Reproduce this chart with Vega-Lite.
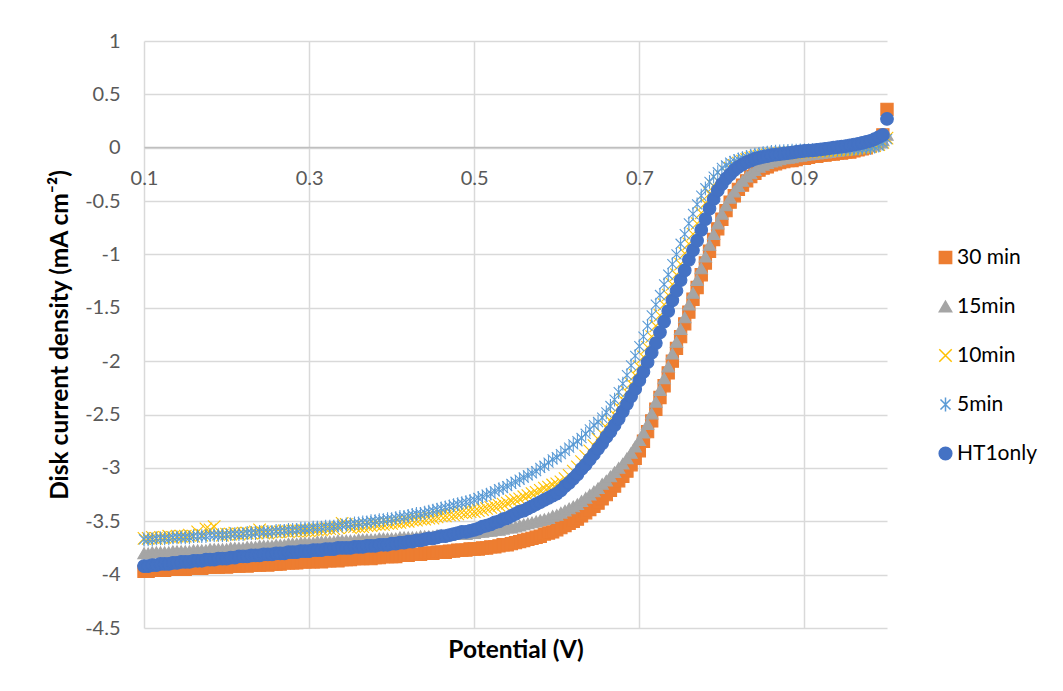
{
"$schema":"https://vega.github.io/schema/vega-lite/v6.json",
"width":743,"height":587,
"autosize":{"type":"none"},
"padding":{"left":144,"top":41,"right":176,"bottom":63},
"background":"#ffffff",
"config":{"view":{"stroke":null}},
"data":{"values":[
{"s":"30 min","x":0.1,"y":-3.97},{"s":"30 min","x":0.105,"y":-3.97},{"s":"30 min","x":0.11,"y":-3.96},{"s":"30 min","x":0.115,"y":-3.96},{"s":"30 min","x":0.12,"y":-3.96},{"s":"30 min","x":0.125,"y":-3.96},{"s":"30 min","x":0.13,"y":-3.95},{"s":"30 min","x":0.135,"y":-3.95},{"s":"30 min","x":0.14,"y":-3.95},{"s":"30 min","x":0.145,"y":-3.95},
{"s":"30 min","x":0.15,"y":-3.95},{"s":"30 min","x":0.155,"y":-3.94},{"s":"30 min","x":0.16,"y":-3.94},{"s":"30 min","x":0.165,"y":-3.94},{"s":"30 min","x":0.17,"y":-3.94},{"s":"30 min","x":0.175,"y":-3.93},{"s":"30 min","x":0.18,"y":-3.93},{"s":"30 min","x":0.185,"y":-3.93},{"s":"30 min","x":0.19,"y":-3.93},{"s":"30 min","x":0.195,"y":-3.92},
{"s":"30 min","x":0.2,"y":-3.93},{"s":"30 min","x":0.205,"y":-3.92},{"s":"30 min","x":0.21,"y":-3.92},{"s":"30 min","x":0.215,"y":-3.92},{"s":"30 min","x":0.22,"y":-3.91},{"s":"30 min","x":0.225,"y":-3.92},{"s":"30 min","x":0.23,"y":-3.91},{"s":"30 min","x":0.235,"y":-3.91},{"s":"30 min","x":0.24,"y":-3.91},{"s":"30 min","x":0.245,"y":-3.9},
{"s":"30 min","x":0.25,"y":-3.91},{"s":"30 min","x":0.255,"y":-3.9},{"s":"30 min","x":0.26,"y":-3.9},{"s":"30 min","x":0.265,"y":-3.9},{"s":"30 min","x":0.27,"y":-3.89},{"s":"30 min","x":0.275,"y":-3.89},{"s":"30 min","x":0.28,"y":-3.89},{"s":"30 min","x":0.285,"y":-3.89},{"s":"30 min","x":0.29,"y":-3.88},{"s":"30 min","x":0.295,"y":-3.88},
{"s":"30 min","x":0.3,"y":-3.88},{"s":"30 min","x":0.305,"y":-3.88},{"s":"30 min","x":0.31,"y":-3.87},{"s":"30 min","x":0.315,"y":-3.88},{"s":"30 min","x":0.32,"y":-3.87},{"s":"30 min","x":0.325,"y":-3.87},{"s":"30 min","x":0.33,"y":-3.86},{"s":"30 min","x":0.335,"y":-3.87},{"s":"30 min","x":0.34,"y":-3.86},{"s":"30 min","x":0.345,"y":-3.86},
{"s":"30 min","x":0.35,"y":-3.86},{"s":"30 min","x":0.355,"y":-3.85},{"s":"30 min","x":0.36,"y":-3.85},{"s":"30 min","x":0.365,"y":-3.85},{"s":"30 min","x":0.37,"y":-3.84},{"s":"30 min","x":0.375,"y":-3.85},{"s":"30 min","x":0.38,"y":-3.84},{"s":"30 min","x":0.385,"y":-3.84},{"s":"30 min","x":0.39,"y":-3.83},{"s":"30 min","x":0.395,"y":-3.83},
{"s":"30 min","x":0.4,"y":-3.83},{"s":"30 min","x":0.405,"y":-3.83},{"s":"30 min","x":0.41,"y":-3.82},{"s":"30 min","x":0.415,"y":-3.82},{"s":"30 min","x":0.42,"y":-3.82},{"s":"30 min","x":0.425,"y":-3.81},{"s":"30 min","x":0.43,"y":-3.81},{"s":"30 min","x":0.435,"y":-3.81},{"s":"30 min","x":0.44,"y":-3.8},{"s":"30 min","x":0.445,"y":-3.8},
{"s":"30 min","x":0.45,"y":-3.8},{"s":"30 min","x":0.455,"y":-3.79},{"s":"30 min","x":0.46,"y":-3.79},{"s":"30 min","x":0.465,"y":-3.79},{"s":"30 min","x":0.47,"y":-3.78},{"s":"30 min","x":0.475,"y":-3.78},{"s":"30 min","x":0.48,"y":-3.77},{"s":"30 min","x":0.485,"y":-3.77},{"s":"30 min","x":0.49,"y":-3.77},{"s":"30 min","x":0.495,"y":-3.76},
{"s":"30 min","x":0.5,"y":-3.76},{"s":"30 min","x":0.505,"y":-3.76},{"s":"30 min","x":0.51,"y":-3.75},{"s":"30 min","x":0.515,"y":-3.75},{"s":"30 min","x":0.52,"y":-3.74},{"s":"30 min","x":0.525,"y":-3.74},{"s":"30 min","x":0.53,"y":-3.73},{"s":"30 min","x":0.535,"y":-3.72},{"s":"30 min","x":0.54,"y":-3.72},{"s":"30 min","x":0.545,"y":-3.71},
{"s":"30 min","x":0.55,"y":-3.7},{"s":"30 min","x":0.555,"y":-3.69},{"s":"30 min","x":0.56,"y":-3.68},{"s":"30 min","x":0.565,"y":-3.67},{"s":"30 min","x":0.57,"y":-3.66},{"s":"30 min","x":0.575,"y":-3.65},{"s":"30 min","x":0.58,"y":-3.64},{"s":"30 min","x":0.585,"y":-3.62},{"s":"30 min","x":0.59,"y":-3.61},{"s":"30 min","x":0.595,"y":-3.6},
{"s":"30 min","x":0.6,"y":-3.58},{"s":"30 min","x":0.605,"y":-3.56},{"s":"30 min","x":0.61,"y":-3.54},{"s":"30 min","x":0.615,"y":-3.52},{"s":"30 min","x":0.62,"y":-3.5},{"s":"30 min","x":0.625,"y":-3.48},{"s":"30 min","x":0.63,"y":-3.45},{"s":"30 min","x":0.635,"y":-3.42},{"s":"30 min","x":0.64,"y":-3.39},{"s":"30 min","x":0.645,"y":-3.36},
{"s":"30 min","x":0.65,"y":-3.33},{"s":"30 min","x":0.655,"y":-3.29},{"s":"30 min","x":0.66,"y":-3.25},{"s":"30 min","x":0.665,"y":-3.21},{"s":"30 min","x":0.67,"y":-3.17},{"s":"30 min","x":0.675,"y":-3.12},{"s":"30 min","x":0.68,"y":-3.08},{"s":"30 min","x":0.685,"y":-3.03},{"s":"30 min","x":0.69,"y":-2.97},{"s":"30 min","x":0.695,"y":-2.91},
{"s":"30 min","x":0.7,"y":-2.84},{"s":"30 min","x":0.705,"y":-2.75},{"s":"30 min","x":0.71,"y":-2.66},{"s":"30 min","x":0.715,"y":-2.56},{"s":"30 min","x":0.72,"y":-2.45},{"s":"30 min","x":0.725,"y":-2.34},{"s":"30 min","x":0.73,"y":-2.23},{"s":"30 min","x":0.735,"y":-2.11},{"s":"30 min","x":0.74,"y":-2.0},{"s":"30 min","x":0.745,"y":-1.88},
{"s":"30 min","x":0.75,"y":-1.77},{"s":"30 min","x":0.755,"y":-1.65},{"s":"30 min","x":0.76,"y":-1.54},{"s":"30 min","x":0.765,"y":-1.42},{"s":"30 min","x":0.77,"y":-1.31},{"s":"30 min","x":0.775,"y":-1.19},{"s":"30 min","x":0.78,"y":-1.08},{"s":"30 min","x":0.785,"y":-0.97},{"s":"30 min","x":0.79,"y":-0.86},{"s":"30 min","x":0.795,"y":-0.76},
{"s":"30 min","x":0.8,"y":-0.67},{"s":"30 min","x":0.805,"y":-0.59},{"s":"30 min","x":0.81,"y":-0.51},{"s":"30 min","x":0.815,"y":-0.45},{"s":"30 min","x":0.82,"y":-0.39},{"s":"30 min","x":0.825,"y":-0.35},{"s":"30 min","x":0.83,"y":-0.31},{"s":"30 min","x":0.835,"y":-0.27},{"s":"30 min","x":0.84,"y":-0.24},{"s":"30 min","x":0.845,"y":-0.21},
{"s":"30 min","x":0.85,"y":-0.19},{"s":"30 min","x":0.855,"y":-0.18},{"s":"30 min","x":0.86,"y":-0.16},{"s":"30 min","x":0.865,"y":-0.15},{"s":"30 min","x":0.87,"y":-0.14},{"s":"30 min","x":0.875,"y":-0.13},{"s":"30 min","x":0.88,"y":-0.12},{"s":"30 min","x":0.885,"y":-0.12},{"s":"30 min","x":0.89,"y":-0.11},{"s":"30 min","x":0.895,"y":-0.1},
{"s":"30 min","x":0.9,"y":-0.1},{"s":"30 min","x":0.905,"y":-0.09},{"s":"30 min","x":0.91,"y":-0.08},{"s":"30 min","x":0.915,"y":-0.08},{"s":"30 min","x":0.92,"y":-0.07},{"s":"30 min","x":0.925,"y":-0.07},{"s":"30 min","x":0.93,"y":-0.06},{"s":"30 min","x":0.935,"y":-0.06},{"s":"30 min","x":0.94,"y":-0.05},{"s":"30 min","x":0.945,"y":-0.05},
{"s":"30 min","x":0.95,"y":-0.04},{"s":"30 min","x":0.955,"y":-0.04},{"s":"30 min","x":0.96,"y":-0.03},{"s":"30 min","x":0.965,"y":-0.02},{"s":"30 min","x":0.97,"y":-0.01},{"s":"30 min","x":0.975,"y":0.0},{"s":"30 min","x":0.98,"y":0.02},{"s":"30 min","x":0.985,"y":0.04},{"s":"30 min","x":0.99,"y":0.06},{"s":"30 min","x":0.995,"y":0.12},
{"s":"30 min","x":1.0,"y":0.36},
{"s":"15min","x":0.1,"y":-3.8},{"s":"15min","x":0.105,"y":-3.8},{"s":"15min","x":0.11,"y":-3.79},{"s":"15min","x":0.115,"y":-3.79},{"s":"15min","x":0.12,"y":-3.79},{"s":"15min","x":0.125,"y":-3.79},{"s":"15min","x":0.13,"y":-3.79},{"s":"15min","x":0.135,"y":-3.78},{"s":"15min","x":0.14,"y":-3.78},{"s":"15min","x":0.145,"y":-3.78},
{"s":"15min","x":0.15,"y":-3.78},{"s":"15min","x":0.155,"y":-3.78},{"s":"15min","x":0.16,"y":-3.77},{"s":"15min","x":0.165,"y":-3.77},{"s":"15min","x":0.17,"y":-3.77},{"s":"15min","x":0.175,"y":-3.77},{"s":"15min","x":0.18,"y":-3.76},{"s":"15min","x":0.185,"y":-3.76},{"s":"15min","x":0.19,"y":-3.76},{"s":"15min","x":0.195,"y":-3.76},
{"s":"15min","x":0.2,"y":-3.76},{"s":"15min","x":0.205,"y":-3.75},{"s":"15min","x":0.21,"y":-3.75},{"s":"15min","x":0.215,"y":-3.75},{"s":"15min","x":0.22,"y":-3.75},{"s":"15min","x":0.225,"y":-3.74},{"s":"15min","x":0.23,"y":-3.74},{"s":"15min","x":0.235,"y":-3.74},{"s":"15min","x":0.24,"y":-3.73},{"s":"15min","x":0.245,"y":-3.73},
{"s":"15min","x":0.25,"y":-3.73},{"s":"15min","x":0.255,"y":-3.73},{"s":"15min","x":0.26,"y":-3.72},{"s":"15min","x":0.265,"y":-3.72},{"s":"15min","x":0.27,"y":-3.72},{"s":"15min","x":0.275,"y":-3.71},{"s":"15min","x":0.28,"y":-3.71},{"s":"15min","x":0.285,"y":-3.71},{"s":"15min","x":0.29,"y":-3.7},{"s":"15min","x":0.295,"y":-3.7},
{"s":"15min","x":0.3,"y":-3.7},{"s":"15min","x":0.305,"y":-3.7},{"s":"15min","x":0.31,"y":-3.69},{"s":"15min","x":0.315,"y":-3.69},{"s":"15min","x":0.32,"y":-3.69},{"s":"15min","x":0.325,"y":-3.69},{"s":"15min","x":0.33,"y":-3.69},{"s":"15min","x":0.335,"y":-3.68},{"s":"15min","x":0.34,"y":-3.68},{"s":"15min","x":0.345,"y":-3.68},
{"s":"15min","x":0.35,"y":-3.68},{"s":"15min","x":0.355,"y":-3.68},{"s":"15min","x":0.36,"y":-3.67},{"s":"15min","x":0.365,"y":-3.67},{"s":"15min","x":0.37,"y":-3.67},{"s":"15min","x":0.375,"y":-3.67},{"s":"15min","x":0.38,"y":-3.67},{"s":"15min","x":0.385,"y":-3.66},{"s":"15min","x":0.39,"y":-3.66},{"s":"15min","x":0.395,"y":-3.66},
{"s":"15min","x":0.4,"y":-3.66},{"s":"15min","x":0.405,"y":-3.66},{"s":"15min","x":0.41,"y":-3.65},{"s":"15min","x":0.415,"y":-3.65},{"s":"15min","x":0.42,"y":-3.65},{"s":"15min","x":0.425,"y":-3.65},{"s":"15min","x":0.43,"y":-3.65},{"s":"15min","x":0.435,"y":-3.64},{"s":"15min","x":0.44,"y":-3.64},{"s":"15min","x":0.445,"y":-3.64},
{"s":"15min","x":0.45,"y":-3.64},{"s":"15min","x":0.455,"y":-3.63},{"s":"15min","x":0.46,"y":-3.63},{"s":"15min","x":0.465,"y":-3.63},{"s":"15min","x":0.47,"y":-3.63},{"s":"15min","x":0.475,"y":-3.62},{"s":"15min","x":0.48,"y":-3.62},{"s":"15min","x":0.485,"y":-3.62},{"s":"15min","x":0.49,"y":-3.62},{"s":"15min","x":0.495,"y":-3.61},
{"s":"15min","x":0.5,"y":-3.61},{"s":"15min","x":0.505,"y":-3.6},{"s":"15min","x":0.51,"y":-3.6},{"s":"15min","x":0.515,"y":-3.59},{"s":"15min","x":0.52,"y":-3.59},{"s":"15min","x":0.525,"y":-3.58},{"s":"15min","x":0.53,"y":-3.58},{"s":"15min","x":0.535,"y":-3.57},{"s":"15min","x":0.54,"y":-3.56},{"s":"15min","x":0.545,"y":-3.56},
{"s":"15min","x":0.55,"y":-3.55},{"s":"15min","x":0.555,"y":-3.54},{"s":"15min","x":0.56,"y":-3.53},{"s":"15min","x":0.565,"y":-3.52},{"s":"15min","x":0.57,"y":-3.51},{"s":"15min","x":0.575,"y":-3.5},{"s":"15min","x":0.58,"y":-3.49},{"s":"15min","x":0.585,"y":-3.48},{"s":"15min","x":0.59,"y":-3.47},{"s":"15min","x":0.595,"y":-3.45},
{"s":"15min","x":0.6,"y":-3.44},{"s":"15min","x":0.605,"y":-3.42},{"s":"15min","x":0.61,"y":-3.4},{"s":"15min","x":0.615,"y":-3.38},{"s":"15min","x":0.62,"y":-3.36},{"s":"15min","x":0.625,"y":-3.34},{"s":"15min","x":0.63,"y":-3.31},{"s":"15min","x":0.635,"y":-3.28},{"s":"15min","x":0.64,"y":-3.25},{"s":"15min","x":0.645,"y":-3.22},
{"s":"15min","x":0.65,"y":-3.19},{"s":"15min","x":0.655,"y":-3.15},{"s":"15min","x":0.66,"y":-3.12},{"s":"15min","x":0.665,"y":-3.08},{"s":"15min","x":0.67,"y":-3.04},{"s":"15min","x":0.675,"y":-3.0},{"s":"15min","x":0.68,"y":-2.96},{"s":"15min","x":0.685,"y":-2.91},{"s":"15min","x":0.69,"y":-2.86},{"s":"15min","x":0.695,"y":-2.8},
{"s":"15min","x":0.7,"y":-2.74},{"s":"15min","x":0.705,"y":-2.67},{"s":"15min","x":0.71,"y":-2.59},{"s":"15min","x":0.715,"y":-2.49},{"s":"15min","x":0.72,"y":-2.38},{"s":"15min","x":0.725,"y":-2.27},{"s":"15min","x":0.73,"y":-2.16},{"s":"15min","x":0.735,"y":-2.05},{"s":"15min","x":0.74,"y":-1.93},{"s":"15min","x":0.745,"y":-1.82},
{"s":"15min","x":0.75,"y":-1.7},{"s":"15min","x":0.755,"y":-1.59},{"s":"15min","x":0.76,"y":-1.47},{"s":"15min","x":0.765,"y":-1.36},{"s":"15min","x":0.77,"y":-1.24},{"s":"15min","x":0.775,"y":-1.13},{"s":"15min","x":0.78,"y":-1.02},{"s":"15min","x":0.785,"y":-0.91},{"s":"15min","x":0.79,"y":-0.81},{"s":"15min","x":0.795,"y":-0.71},
{"s":"15min","x":0.8,"y":-0.62},{"s":"15min","x":0.805,"y":-0.54},{"s":"15min","x":0.81,"y":-0.47},{"s":"15min","x":0.815,"y":-0.41},{"s":"15min","x":0.82,"y":-0.36},{"s":"15min","x":0.825,"y":-0.31},{"s":"15min","x":0.83,"y":-0.27},{"s":"15min","x":0.835,"y":-0.24},{"s":"15min","x":0.84,"y":-0.21},{"s":"15min","x":0.845,"y":-0.18},
{"s":"15min","x":0.85,"y":-0.16},{"s":"15min","x":0.855,"y":-0.145},{"s":"15min","x":0.86,"y":-0.13},{"s":"15min","x":0.865,"y":-0.12},{"s":"15min","x":0.87,"y":-0.11},{"s":"15min","x":0.875,"y":-0.1},{"s":"15min","x":0.88,"y":-0.095},{"s":"15min","x":0.885,"y":-0.09},{"s":"15min","x":0.89,"y":-0.08},{"s":"15min","x":0.895,"y":-0.075},
{"s":"15min","x":0.9,"y":-0.07},{"s":"15min","x":0.905,"y":-0.065},{"s":"15min","x":0.91,"y":-0.06},{"s":"15min","x":0.915,"y":-0.055},{"s":"15min","x":0.92,"y":-0.05},{"s":"15min","x":0.925,"y":-0.045},{"s":"15min","x":0.93,"y":-0.04},{"s":"15min","x":0.935,"y":-0.035},{"s":"15min","x":0.94,"y":-0.03},{"s":"15min","x":0.945,"y":-0.025},
{"s":"15min","x":0.95,"y":-0.02},{"s":"15min","x":0.955,"y":-0.015},{"s":"15min","x":0.96,"y":-0.01},{"s":"15min","x":0.965,"y":0.0},{"s":"15min","x":0.97,"y":0.005},{"s":"15min","x":0.975,"y":0.01},{"s":"15min","x":0.98,"y":0.02},{"s":"15min","x":0.985,"y":0.03},{"s":"15min","x":0.99,"y":0.05},{"s":"15min","x":0.995,"y":0.07},
{"s":"15min","x":1.0,"y":0.12},
{"s":"10min","x":0.1,"y":-3.66},{"s":"10min","x":0.105,"y":-3.66},{"s":"10min","x":0.11,"y":-3.65},{"s":"10min","x":0.115,"y":-3.66},{"s":"10min","x":0.12,"y":-3.65},{"s":"10min","x":0.125,"y":-3.65},{"s":"10min","x":0.13,"y":-3.64},{"s":"10min","x":0.135,"y":-3.65},{"s":"10min","x":0.14,"y":-3.64},{"s":"10min","x":0.145,"y":-3.64},
{"s":"10min","x":0.15,"y":-3.64},{"s":"10min","x":0.155,"y":-3.63},{"s":"10min","x":0.16,"y":-3.64},{"s":"10min","x":0.165,"y":-3.6},{"s":"10min","x":0.17,"y":-3.63},{"s":"10min","x":0.175,"y":-3.57},{"s":"10min","x":0.18,"y":-3.58},{"s":"10min","x":0.185,"y":-3.55},{"s":"10min","x":0.19,"y":-3.62},{"s":"10min","x":0.195,"y":-3.63},
{"s":"10min","x":0.2,"y":-3.62},{"s":"10min","x":0.205,"y":-3.62},{"s":"10min","x":0.21,"y":-3.61},{"s":"10min","x":0.215,"y":-3.62},{"s":"10min","x":0.22,"y":-3.61},{"s":"10min","x":0.225,"y":-3.61},{"s":"10min","x":0.23,"y":-3.61},{"s":"10min","x":0.235,"y":-3.6},{"s":"10min","x":0.24,"y":-3.58},{"s":"10min","x":0.245,"y":-3.61},
{"s":"10min","x":0.25,"y":-3.61},{"s":"10min","x":0.255,"y":-3.6},{"s":"10min","x":0.26,"y":-3.6},{"s":"10min","x":0.265,"y":-3.6},{"s":"10min","x":0.27,"y":-3.59},{"s":"10min","x":0.275,"y":-3.6},{"s":"10min","x":0.28,"y":-3.59},{"s":"10min","x":0.285,"y":-3.59},{"s":"10min","x":0.29,"y":-3.59},{"s":"10min","x":0.295,"y":-3.59},
{"s":"10min","x":0.3,"y":-3.59},{"s":"10min","x":0.305,"y":-3.58},{"s":"10min","x":0.31,"y":-3.58},{"s":"10min","x":0.315,"y":-3.58},{"s":"10min","x":0.32,"y":-3.57},{"s":"10min","x":0.325,"y":-3.57},{"s":"10min","x":0.33,"y":-3.57},{"s":"10min","x":0.335,"y":-3.56},{"s":"10min","x":0.34,"y":-3.52},{"s":"10min","x":0.345,"y":-3.53},
{"s":"10min","x":0.35,"y":-3.56},{"s":"10min","x":0.355,"y":-3.55},{"s":"10min","x":0.36,"y":-3.55},{"s":"10min","x":0.365,"y":-3.55},{"s":"10min","x":0.37,"y":-3.54},{"s":"10min","x":0.375,"y":-3.54},{"s":"10min","x":0.38,"y":-3.53},{"s":"10min","x":0.385,"y":-3.53},{"s":"10min","x":0.39,"y":-3.53},{"s":"10min","x":0.395,"y":-3.52},
{"s":"10min","x":0.4,"y":-3.52},{"s":"10min","x":0.405,"y":-3.51},{"s":"10min","x":0.41,"y":-3.51},{"s":"10min","x":0.415,"y":-3.5},{"s":"10min","x":0.42,"y":-3.5},{"s":"10min","x":0.425,"y":-3.49},{"s":"10min","x":0.43,"y":-3.49},{"s":"10min","x":0.435,"y":-3.48},{"s":"10min","x":0.44,"y":-3.48},{"s":"10min","x":0.445,"y":-3.47},
{"s":"10min","x":0.45,"y":-3.47},{"s":"10min","x":0.455,"y":-3.46},{"s":"10min","x":0.46,"y":-3.45},{"s":"10min","x":0.465,"y":-3.45},{"s":"10min","x":0.47,"y":-3.44},{"s":"10min","x":0.475,"y":-3.44},{"s":"10min","x":0.48,"y":-3.43},{"s":"10min","x":0.485,"y":-3.42},{"s":"10min","x":0.49,"y":-3.42},{"s":"10min","x":0.495,"y":-3.41},
{"s":"10min","x":0.5,"y":-3.41},{"s":"10min","x":0.505,"y":-3.4},{"s":"10min","x":0.51,"y":-3.39},{"s":"10min","x":0.515,"y":-3.38},{"s":"10min","x":0.52,"y":-3.37},{"s":"10min","x":0.525,"y":-3.36},{"s":"10min","x":0.53,"y":-3.35},{"s":"10min","x":0.535,"y":-3.34},{"s":"10min","x":0.54,"y":-3.33},{"s":"10min","x":0.545,"y":-3.31},
{"s":"10min","x":0.55,"y":-3.3},{"s":"10min","x":0.555,"y":-3.29},{"s":"10min","x":0.56,"y":-3.27},{"s":"10min","x":0.565,"y":-3.26},{"s":"10min","x":0.57,"y":-3.24},{"s":"10min","x":0.575,"y":-3.23},{"s":"10min","x":0.58,"y":-3.21},{"s":"10min","x":0.585,"y":-3.19},{"s":"10min","x":0.59,"y":-3.18},{"s":"10min","x":0.595,"y":-3.16},
{"s":"10min","x":0.6,"y":-3.15},{"s":"10min","x":0.605,"y":-3.13},{"s":"10min","x":0.61,"y":-3.1},{"s":"10min","x":0.615,"y":-3.07},{"s":"10min","x":0.62,"y":-3.03},{"s":"10min","x":0.625,"y":-2.99},{"s":"10min","x":0.63,"y":-2.94},{"s":"10min","x":0.635,"y":-2.89},{"s":"10min","x":0.64,"y":-2.84},{"s":"10min","x":0.645,"y":-2.79},
{"s":"10min","x":0.65,"y":-2.73},{"s":"10min","x":0.655,"y":-2.68},{"s":"10min","x":0.66,"y":-2.62},{"s":"10min","x":0.665,"y":-2.56},{"s":"10min","x":0.67,"y":-2.5},{"s":"10min","x":0.675,"y":-2.43},{"s":"10min","x":0.68,"y":-2.36},{"s":"10min","x":0.685,"y":-2.29},{"s":"10min","x":0.69,"y":-2.21},{"s":"10min","x":0.695,"y":-2.13},
{"s":"10min","x":0.7,"y":-2.05},{"s":"10min","x":0.705,"y":-1.96},{"s":"10min","x":0.71,"y":-1.87},{"s":"10min","x":0.715,"y":-1.77},{"s":"10min","x":0.72,"y":-1.67},{"s":"10min","x":0.725,"y":-1.57},{"s":"10min","x":0.73,"y":-1.47},{"s":"10min","x":0.735,"y":-1.38},{"s":"10min","x":0.74,"y":-1.28},{"s":"10min","x":0.745,"y":-1.19},
{"s":"10min","x":0.75,"y":-1.09},{"s":"10min","x":0.755,"y":-0.99},{"s":"10min","x":0.76,"y":-0.9},{"s":"10min","x":0.765,"y":-0.81},{"s":"10min","x":0.77,"y":-0.71},{"s":"10min","x":0.775,"y":-0.61},{"s":"10min","x":0.78,"y":-0.52},{"s":"10min","x":0.785,"y":-0.43},{"s":"10min","x":0.79,"y":-0.36},{"s":"10min","x":0.795,"y":-0.31},
{"s":"10min","x":0.8,"y":-0.27},{"s":"10min","x":0.805,"y":-0.225},{"s":"10min","x":0.81,"y":-0.19},{"s":"10min","x":0.815,"y":-0.165},{"s":"10min","x":0.82,"y":-0.145},{"s":"10min","x":0.825,"y":-0.125},{"s":"10min","x":0.83,"y":-0.11},{"s":"10min","x":0.835,"y":-0.1},{"s":"10min","x":0.84,"y":-0.09},{"s":"10min","x":0.845,"y":-0.082},
{"s":"10min","x":0.85,"y":-0.075},{"s":"10min","x":0.855,"y":-0.07},{"s":"10min","x":0.86,"y":-0.065},{"s":"10min","x":0.865,"y":-0.06},{"s":"10min","x":0.87,"y":-0.056},{"s":"10min","x":0.875,"y":-0.053},{"s":"10min","x":0.88,"y":-0.05},{"s":"10min","x":0.885,"y":-0.047},{"s":"10min","x":0.89,"y":-0.044},{"s":"10min","x":0.895,"y":-0.042},
{"s":"10min","x":0.9,"y":-0.04},{"s":"10min","x":0.905,"y":-0.037},{"s":"10min","x":0.91,"y":-0.035},{"s":"10min","x":0.915,"y":-0.032},{"s":"10min","x":0.92,"y":-0.03},{"s":"10min","x":0.925,"y":-0.027},{"s":"10min","x":0.93,"y":-0.025},{"s":"10min","x":0.935,"y":-0.022},{"s":"10min","x":0.94,"y":-0.02},{"s":"10min","x":0.945,"y":-0.017},
{"s":"10min","x":0.95,"y":-0.015},{"s":"10min","x":0.955,"y":-0.012},{"s":"10min","x":0.96,"y":-0.01},{"s":"10min","x":0.965,"y":-0.005},{"s":"10min","x":0.97,"y":0.0},{"s":"10min","x":0.975,"y":0.005},{"s":"10min","x":0.98,"y":0.01},{"s":"10min","x":0.985,"y":0.02},{"s":"10min","x":0.99,"y":0.03},{"s":"10min","x":0.995,"y":0.05},
{"s":"10min","x":1.0,"y":0.09},
{"s":"5min","x":0.1,"y":-3.67},{"s":"5min","x":0.105,"y":-3.67},{"s":"5min","x":0.11,"y":-3.67},{"s":"5min","x":0.115,"y":-3.66},{"s":"5min","x":0.12,"y":-3.66},{"s":"5min","x":0.125,"y":-3.66},{"s":"5min","x":0.13,"y":-3.66},{"s":"5min","x":0.135,"y":-3.65},{"s":"5min","x":0.14,"y":-3.65},{"s":"5min","x":0.145,"y":-3.65},
{"s":"5min","x":0.15,"y":-3.65},{"s":"5min","x":0.155,"y":-3.65},{"s":"5min","x":0.16,"y":-3.64},{"s":"5min","x":0.165,"y":-3.64},{"s":"5min","x":0.17,"y":-3.64},{"s":"5min","x":0.175,"y":-3.64},{"s":"5min","x":0.18,"y":-3.63},{"s":"5min","x":0.185,"y":-3.63},{"s":"5min","x":0.19,"y":-3.63},{"s":"5min","x":0.195,"y":-3.63},
{"s":"5min","x":0.2,"y":-3.63},{"s":"5min","x":0.205,"y":-3.62},{"s":"5min","x":0.21,"y":-3.62},{"s":"5min","x":0.215,"y":-3.62},{"s":"5min","x":0.22,"y":-3.62},{"s":"5min","x":0.225,"y":-3.61},{"s":"5min","x":0.23,"y":-3.61},{"s":"5min","x":0.235,"y":-3.61},{"s":"5min","x":0.24,"y":-3.6},{"s":"5min","x":0.245,"y":-3.6},
{"s":"5min","x":0.25,"y":-3.6},{"s":"5min","x":0.255,"y":-3.6},{"s":"5min","x":0.26,"y":-3.59},{"s":"5min","x":0.265,"y":-3.59},{"s":"5min","x":0.27,"y":-3.59},{"s":"5min","x":0.275,"y":-3.58},{"s":"5min","x":0.28,"y":-3.58},{"s":"5min","x":0.285,"y":-3.58},{"s":"5min","x":0.29,"y":-3.57},{"s":"5min","x":0.295,"y":-3.57},
{"s":"5min","x":0.3,"y":-3.57},{"s":"5min","x":0.305,"y":-3.56},{"s":"5min","x":0.31,"y":-3.56},{"s":"5min","x":0.315,"y":-3.56},{"s":"5min","x":0.32,"y":-3.55},{"s":"5min","x":0.325,"y":-3.55},{"s":"5min","x":0.33,"y":-3.55},{"s":"5min","x":0.335,"y":-3.54},{"s":"5min","x":0.34,"y":-3.54},{"s":"5min","x":0.345,"y":-3.53},
{"s":"5min","x":0.35,"y":-3.53},{"s":"5min","x":0.355,"y":-3.52},{"s":"5min","x":0.36,"y":-3.52},{"s":"5min","x":0.365,"y":-3.51},{"s":"5min","x":0.37,"y":-3.51},{"s":"5min","x":0.375,"y":-3.5},{"s":"5min","x":0.38,"y":-3.5},{"s":"5min","x":0.385,"y":-3.49},{"s":"5min","x":0.39,"y":-3.49},{"s":"5min","x":0.395,"y":-3.48},
{"s":"5min","x":0.4,"y":-3.48},{"s":"5min","x":0.405,"y":-3.47},{"s":"5min","x":0.41,"y":-3.46},{"s":"5min","x":0.415,"y":-3.46},{"s":"5min","x":0.42,"y":-3.45},{"s":"5min","x":0.425,"y":-3.44},{"s":"5min","x":0.43,"y":-3.43},{"s":"5min","x":0.435,"y":-3.43},{"s":"5min","x":0.44,"y":-3.42},{"s":"5min","x":0.445,"y":-3.41},
{"s":"5min","x":0.45,"y":-3.4},{"s":"5min","x":0.455,"y":-3.39},{"s":"5min","x":0.46,"y":-3.38},{"s":"5min","x":0.465,"y":-3.37},{"s":"5min","x":0.47,"y":-3.36},{"s":"5min","x":0.475,"y":-3.35},{"s":"5min","x":0.48,"y":-3.34},{"s":"5min","x":0.485,"y":-3.33},{"s":"5min","x":0.49,"y":-3.32},{"s":"5min","x":0.495,"y":-3.31},
{"s":"5min","x":0.5,"y":-3.3},{"s":"5min","x":0.505,"y":-3.28},{"s":"5min","x":0.51,"y":-3.27},{"s":"5min","x":0.515,"y":-3.25},{"s":"5min","x":0.52,"y":-3.24},{"s":"5min","x":0.525,"y":-3.22},{"s":"5min","x":0.53,"y":-3.2},{"s":"5min","x":0.535,"y":-3.19},{"s":"5min","x":0.54,"y":-3.17},{"s":"5min","x":0.545,"y":-3.15},
{"s":"5min","x":0.55,"y":-3.13},{"s":"5min","x":0.555,"y":-3.11},{"s":"5min","x":0.56,"y":-3.09},{"s":"5min","x":0.565,"y":-3.07},{"s":"5min","x":0.57,"y":-3.05},{"s":"5min","x":0.575,"y":-3.03},{"s":"5min","x":0.58,"y":-3.0},{"s":"5min","x":0.585,"y":-2.98},{"s":"5min","x":0.59,"y":-2.95},{"s":"5min","x":0.595,"y":-2.92},
{"s":"5min","x":0.6,"y":-2.9},{"s":"5min","x":0.605,"y":-2.87},{"s":"5min","x":0.61,"y":-2.84},{"s":"5min","x":0.615,"y":-2.81},{"s":"5min","x":0.62,"y":-2.78},{"s":"5min","x":0.625,"y":-2.75},{"s":"5min","x":0.63,"y":-2.72},{"s":"5min","x":0.635,"y":-2.68},{"s":"5min","x":0.64,"y":-2.64},{"s":"5min","x":0.645,"y":-2.6},
{"s":"5min","x":0.65,"y":-2.57},{"s":"5min","x":0.655,"y":-2.53},{"s":"5min","x":0.66,"y":-2.48},{"s":"5min","x":0.665,"y":-2.42},{"s":"5min","x":0.67,"y":-2.36},{"s":"5min","x":0.675,"y":-2.29},{"s":"5min","x":0.68,"y":-2.21},{"s":"5min","x":0.685,"y":-2.13},{"s":"5min","x":0.69,"y":-2.04},{"s":"5min","x":0.695,"y":-1.95},
{"s":"5min","x":0.7,"y":-1.86},{"s":"5min","x":0.705,"y":-1.77},{"s":"5min","x":0.71,"y":-1.67},{"s":"5min","x":0.715,"y":-1.57},{"s":"5min","x":0.72,"y":-1.47},{"s":"5min","x":0.725,"y":-1.38},{"s":"5min","x":0.73,"y":-1.28},{"s":"5min","x":0.735,"y":-1.19},{"s":"5min","x":0.74,"y":-1.09},{"s":"5min","x":0.745,"y":-1.0},
{"s":"5min","x":0.75,"y":-0.9},{"s":"5min","x":0.755,"y":-0.81},{"s":"5min","x":0.76,"y":-0.71},{"s":"5min","x":0.765,"y":-0.62},{"s":"5min","x":0.77,"y":-0.53},{"s":"5min","x":0.775,"y":-0.45},{"s":"5min","x":0.78,"y":-0.38},{"s":"5min","x":0.785,"y":-0.32},{"s":"5min","x":0.79,"y":-0.27},{"s":"5min","x":0.795,"y":-0.23},
{"s":"5min","x":0.8,"y":-0.19},{"s":"5min","x":0.805,"y":-0.165},{"s":"5min","x":0.81,"y":-0.14},{"s":"5min","x":0.815,"y":-0.125},{"s":"5min","x":0.82,"y":-0.11},{"s":"5min","x":0.825,"y":-0.097},{"s":"5min","x":0.83,"y":-0.085},{"s":"5min","x":0.835,"y":-0.075},{"s":"5min","x":0.84,"y":-0.065},{"s":"5min","x":0.845,"y":-0.057},
{"s":"5min","x":0.85,"y":-0.05},{"s":"5min","x":0.855,"y":-0.045},{"s":"5min","x":0.86,"y":-0.04},{"s":"5min","x":0.865,"y":-0.037},{"s":"5min","x":0.87,"y":-0.035},{"s":"5min","x":0.875,"y":-0.032},{"s":"5min","x":0.88,"y":-0.03},{"s":"5min","x":0.885,"y":-0.028},{"s":"5min","x":0.89,"y":-0.027},{"s":"5min","x":0.895,"y":-0.026},
{"s":"5min","x":0.9,"y":-0.025},{"s":"5min","x":0.905,"y":-0.024},{"s":"5min","x":0.91,"y":-0.022},{"s":"5min","x":0.915,"y":-0.021},{"s":"5min","x":0.92,"y":-0.02},{"s":"5min","x":0.925,"y":-0.019},{"s":"5min","x":0.93,"y":-0.017},{"s":"5min","x":0.935,"y":-0.016},{"s":"5min","x":0.94,"y":-0.015},{"s":"5min","x":0.945,"y":-0.013},
{"s":"5min","x":0.95,"y":-0.012},{"s":"5min","x":0.955,"y":-0.011},{"s":"5min","x":0.96,"y":-0.01},{"s":"5min","x":0.965,"y":-0.007},{"s":"5min","x":0.97,"y":-0.005},{"s":"5min","x":0.975,"y":-0.002},{"s":"5min","x":0.98,"y":0.0},{"s":"5min","x":0.985,"y":0.01},{"s":"5min","x":0.99,"y":0.02},{"s":"5min","x":0.995,"y":0.04},
{"s":"5min","x":1.0,"y":0.08},
{"s":"HT1only","x":0.1,"y":-3.92},{"s":"HT1only","x":0.105,"y":-3.92},{"s":"HT1only","x":0.11,"y":-3.91},{"s":"HT1only","x":0.115,"y":-3.91},{"s":"HT1only","x":0.12,"y":-3.9},{"s":"HT1only","x":0.125,"y":-3.9},{"s":"HT1only","x":0.13,"y":-3.9},{"s":"HT1only","x":0.135,"y":-3.89},{"s":"HT1only","x":0.14,"y":-3.89},{"s":"HT1only","x":0.145,"y":-3.88},
{"s":"HT1only","x":0.15,"y":-3.88},{"s":"HT1only","x":0.155,"y":-3.88},{"s":"HT1only","x":0.16,"y":-3.87},{"s":"HT1only","x":0.165,"y":-3.87},{"s":"HT1only","x":0.17,"y":-3.87},{"s":"HT1only","x":0.175,"y":-3.86},{"s":"HT1only","x":0.18,"y":-3.86},{"s":"HT1only","x":0.185,"y":-3.86},{"s":"HT1only","x":0.19,"y":-3.85},{"s":"HT1only","x":0.195,"y":-3.85},
{"s":"HT1only","x":0.2,"y":-3.85},{"s":"HT1only","x":0.205,"y":-3.84},{"s":"HT1only","x":0.21,"y":-3.84},{"s":"HT1only","x":0.215,"y":-3.83},{"s":"HT1only","x":0.22,"y":-3.83},{"s":"HT1only","x":0.225,"y":-3.83},{"s":"HT1only","x":0.23,"y":-3.82},{"s":"HT1only","x":0.235,"y":-3.82},{"s":"HT1only","x":0.24,"y":-3.82},{"s":"HT1only","x":0.245,"y":-3.81},
{"s":"HT1only","x":0.25,"y":-3.81},{"s":"HT1only","x":0.255,"y":-3.81},{"s":"HT1only","x":0.26,"y":-3.8},{"s":"HT1only","x":0.265,"y":-3.8},{"s":"HT1only","x":0.27,"y":-3.8},{"s":"HT1only","x":0.275,"y":-3.79},{"s":"HT1only","x":0.28,"y":-3.79},{"s":"HT1only","x":0.285,"y":-3.79},{"s":"HT1only","x":0.29,"y":-3.78},{"s":"HT1only","x":0.295,"y":-3.78},
{"s":"HT1only","x":0.3,"y":-3.78},{"s":"HT1only","x":0.305,"y":-3.77},{"s":"HT1only","x":0.31,"y":-3.77},{"s":"HT1only","x":0.315,"y":-3.77},{"s":"HT1only","x":0.32,"y":-3.76},{"s":"HT1only","x":0.325,"y":-3.76},{"s":"HT1only","x":0.33,"y":-3.76},{"s":"HT1only","x":0.335,"y":-3.75},{"s":"HT1only","x":0.34,"y":-3.75},{"s":"HT1only","x":0.345,"y":-3.75},
{"s":"HT1only","x":0.35,"y":-3.75},{"s":"HT1only","x":0.355,"y":-3.74},{"s":"HT1only","x":0.36,"y":-3.74},{"s":"HT1only","x":0.365,"y":-3.74},{"s":"HT1only","x":0.37,"y":-3.73},{"s":"HT1only","x":0.375,"y":-3.73},{"s":"HT1only","x":0.38,"y":-3.73},{"s":"HT1only","x":0.385,"y":-3.72},{"s":"HT1only","x":0.39,"y":-3.72},{"s":"HT1only","x":0.395,"y":-3.72},
{"s":"HT1only","x":0.4,"y":-3.71},{"s":"HT1only","x":0.405,"y":-3.71},{"s":"HT1only","x":0.41,"y":-3.7},{"s":"HT1only","x":0.415,"y":-3.7},{"s":"HT1only","x":0.42,"y":-3.69},{"s":"HT1only","x":0.425,"y":-3.69},{"s":"HT1only","x":0.43,"y":-3.68},{"s":"HT1only","x":0.435,"y":-3.68},{"s":"HT1only","x":0.44,"y":-3.67},{"s":"HT1only","x":0.445,"y":-3.66},
{"s":"HT1only","x":0.45,"y":-3.66},{"s":"HT1only","x":0.455,"y":-3.65},{"s":"HT1only","x":0.46,"y":-3.64},{"s":"HT1only","x":0.465,"y":-3.64},{"s":"HT1only","x":0.47,"y":-3.63},{"s":"HT1only","x":0.475,"y":-3.62},{"s":"HT1only","x":0.48,"y":-3.61},{"s":"HT1only","x":0.485,"y":-3.6},{"s":"HT1only","x":0.49,"y":-3.6},{"s":"HT1only","x":0.495,"y":-3.59},
{"s":"HT1only","x":0.5,"y":-3.58},{"s":"HT1only","x":0.505,"y":-3.57},{"s":"HT1only","x":0.51,"y":-3.55},{"s":"HT1only","x":0.515,"y":-3.54},{"s":"HT1only","x":0.52,"y":-3.53},{"s":"HT1only","x":0.525,"y":-3.51},{"s":"HT1only","x":0.53,"y":-3.5},{"s":"HT1only","x":0.535,"y":-3.48},{"s":"HT1only","x":0.54,"y":-3.47},{"s":"HT1only","x":0.545,"y":-3.45},
{"s":"HT1only","x":0.55,"y":-3.43},{"s":"HT1only","x":0.555,"y":-3.41},{"s":"HT1only","x":0.56,"y":-3.4},{"s":"HT1only","x":0.565,"y":-3.38},{"s":"HT1only","x":0.57,"y":-3.36},{"s":"HT1only","x":0.575,"y":-3.34},{"s":"HT1only","x":0.58,"y":-3.32},{"s":"HT1only","x":0.585,"y":-3.3},{"s":"HT1only","x":0.59,"y":-3.28},{"s":"HT1only","x":0.595,"y":-3.26},
{"s":"HT1only","x":0.6,"y":-3.24},{"s":"HT1only","x":0.605,"y":-3.21},{"s":"HT1only","x":0.61,"y":-3.17},{"s":"HT1only","x":0.615,"y":-3.14},{"s":"HT1only","x":0.62,"y":-3.1},{"s":"HT1only","x":0.625,"y":-3.06},{"s":"HT1only","x":0.63,"y":-3.01},{"s":"HT1only","x":0.635,"y":-2.97},{"s":"HT1only","x":0.64,"y":-2.92},{"s":"HT1only","x":0.645,"y":-2.87},
{"s":"HT1only","x":0.65,"y":-2.82},{"s":"HT1only","x":0.655,"y":-2.77},{"s":"HT1only","x":0.66,"y":-2.71},{"s":"HT1only","x":0.665,"y":-2.66},{"s":"HT1only","x":0.67,"y":-2.6},{"s":"HT1only","x":0.675,"y":-2.54},{"s":"HT1only","x":0.68,"y":-2.47},{"s":"HT1only","x":0.685,"y":-2.4},{"s":"HT1only","x":0.69,"y":-2.33},{"s":"HT1only","x":0.695,"y":-2.26},
{"s":"HT1only","x":0.7,"y":-2.18},{"s":"HT1only","x":0.705,"y":-2.1},{"s":"HT1only","x":0.71,"y":-2.01},{"s":"HT1only","x":0.715,"y":-1.92},{"s":"HT1only","x":0.72,"y":-1.83},{"s":"HT1only","x":0.725,"y":-1.73},{"s":"HT1only","x":0.73,"y":-1.63},{"s":"HT1only","x":0.735,"y":-1.53},{"s":"HT1only","x":0.74,"y":-1.43},{"s":"HT1only","x":0.745,"y":-1.34},
{"s":"HT1only","x":0.75,"y":-1.24},{"s":"HT1only","x":0.755,"y":-1.15},{"s":"HT1only","x":0.76,"y":-1.05},{"s":"HT1only","x":0.765,"y":-0.96},{"s":"HT1only","x":0.77,"y":-0.87},{"s":"HT1only","x":0.775,"y":-0.77},{"s":"HT1only","x":0.78,"y":-0.67},{"s":"HT1only","x":0.785,"y":-0.57},{"s":"HT1only","x":0.79,"y":-0.48},{"s":"HT1only","x":0.795,"y":-0.4},
{"s":"HT1only","x":0.8,"y":-0.34},{"s":"HT1only","x":0.805,"y":-0.29},{"s":"HT1only","x":0.81,"y":-0.25},{"s":"HT1only","x":0.815,"y":-0.21},{"s":"HT1only","x":0.82,"y":-0.18},{"s":"HT1only","x":0.825,"y":-0.155},{"s":"HT1only","x":0.83,"y":-0.135},{"s":"HT1only","x":0.835,"y":-0.12},{"s":"HT1only","x":0.84,"y":-0.105},{"s":"HT1only","x":0.845,"y":-0.095},
{"s":"HT1only","x":0.85,"y":-0.085},{"s":"HT1only","x":0.855,"y":-0.078},{"s":"HT1only","x":0.86,"y":-0.07},{"s":"HT1only","x":0.865,"y":-0.065},{"s":"HT1only","x":0.87,"y":-0.06},{"s":"HT1only","x":0.875,"y":-0.055},{"s":"HT1only","x":0.88,"y":-0.05},{"s":"HT1only","x":0.885,"y":-0.045},{"s":"HT1only","x":0.89,"y":-0.04},{"s":"HT1only","x":0.895,"y":-0.035},
{"s":"HT1only","x":0.9,"y":-0.03},{"s":"HT1only","x":0.905,"y":-0.028},{"s":"HT1only","x":0.91,"y":-0.025},{"s":"HT1only","x":0.915,"y":-0.02},{"s":"HT1only","x":0.92,"y":-0.015},{"s":"HT1only","x":0.925,"y":-0.01},{"s":"HT1only","x":0.93,"y":-0.005},{"s":"HT1only","x":0.935,"y":0.0},{"s":"HT1only","x":0.94,"y":0.005},{"s":"HT1only","x":0.945,"y":0.01},
{"s":"HT1only","x":0.95,"y":0.015},{"s":"HT1only","x":0.955,"y":0.022},{"s":"HT1only","x":0.96,"y":0.03},{"s":"HT1only","x":0.965,"y":0.037},{"s":"HT1only","x":0.97,"y":0.045},{"s":"HT1only","x":0.975,"y":0.055},{"s":"HT1only","x":0.98,"y":0.065},{"s":"HT1only","x":0.985,"y":0.08},{"s":"HT1only","x":0.99,"y":0.1},{"s":"HT1only","x":0.995,"y":0.12},
{"s":"HT1only","x":1.0,"y":0.27}
]},
"mark":{"type":"point","filled":true,"strokeWidth":1.1,"opacity":1},
"encoding":{
"x":{"field":"x","type":"quantitative","scale":{"domain":[0.1,1.0],"nice":false,"zero":false},
"axis":{"values":[0.1,0.3,0.5,0.7,0.9],"offset":-481,"ticks":false,"tickSize":0,"labelFlush":false,"domainColor":"#bfbfbf","domainWidth":1.5,"labelPadding":31,"labelBaseline":"middle","labelFont":"Lato","labelFontSize":20,"labelColor":"#595959","labelExpr":"'' + datum.value","grid":true,"gridColor":"#d9d9d9","gridWidth":1.5,"title":"Potential (V)","titleFont":"Lato","titleFontSize":24.5,"titleFontWeight":"bold","titleColor":"#000000","titleY":503,"titleBaseline":"middle"}},
"y":{"field":"y","type":"quantitative","scale":{"domain":[-4.5,1],"nice":false,"zero":false},
"axis":{"values":[-4.5,-4,-3.5,-3,-2.5,-2,-1.5,-1,-0.5,0,0.5,1],"domain":false,"ticks":false,"tickSize":0,"labelFlush":false,"labelPadding":24,"labelFont":"Lato","labelFontSize":20,"labelColor":"#595959","labelExpr":"'' + datum.value","grid":true,"gridColor":"#d9d9d9","gridWidth":1.5,"title":"Disk current density (mA cm⁻²)","titleFont":"Lato","titleFontSize":24.5,"titleFontWeight":"bold","titleColor":"#000000","titleX":-84,"titleY":293.5,"titleAlign":"center","titleBaseline":"middle","titleAngle":-90}},
"fill":{"field":"s","type":"nominal","scale":{"domain":["30 min","15min","10min","5min","HT1only"],"range":["#ED7D31","#A5A5A5","#FFC000","#5B9BD5","#4472C4"]},
"legend":{"title":null,"orient":"none","legendX":791,"legendY":206,"labelFont":"Lato","labelFontSize":21,"labelColor":"#000000","rowPadding":27,"labelOffset":1,"padding":0,"symbolStrokeWidth":1.5,"encode":{"symbols":{"update":{"size":{"value":210}}}}}},
"stroke":{"field":"s","type":"nominal","scale":{"domain":["30 min","15min","10min","5min","HT1only"],"range":["#ED7D31","#A5A5A5","#FFC000","#5B9BD5","#4472C4"]}},
"shape":{"field":"s","type":"nominal","scale":{"domain":["30 min","15min","10min","5min","HT1only"],"range":["square","triangle-up","M-1,-1L1,1M-1,1L1,-1","M-0.8,-0.8L0.8,0.8M-0.8,0.8L0.8,-0.8M0,-1.1L0,1.1","circle"]}},
"size":{"field":"s","type":"nominal","scale":{"domain":["30 min","15min","10min","5min","HT1only"],"range":[150,160,110,130,235]}}
}
}
